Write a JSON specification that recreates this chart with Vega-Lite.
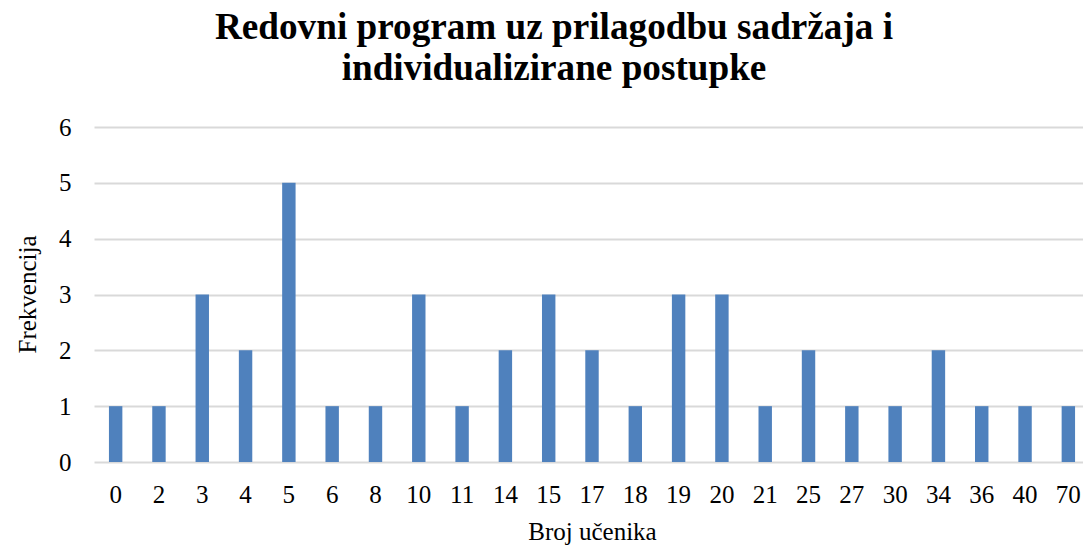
{
  "$schema": "https://vega.github.io/schema/vega-lite/v6.json",
  "autosize": {"type": "none"},
  "padding": {"left": 94, "top": 127, "right": 0, "bottom": 83},
  "width": 996,
  "height": 335,
  "background": "white",
  "title": {
    "text": ["Redovni program uz prilagodbu sadržaja i", "individualizirane postupke"],
    "font": "Liberation Serif",
    "fontSize": 37.2,
    "fontWeight": "bold",
    "color": "#000000",
    "anchor": "middle",
    "frame": "group",
    "dx": -38,
    "offset": 27,
    "lineHeight": 41
  },
  "data": {
    "values": [
      {"broj": "0", "frekvencija": 1},
      {"broj": "2", "frekvencija": 1},
      {"broj": "3", "frekvencija": 3},
      {"broj": "4", "frekvencija": 2},
      {"broj": "5", "frekvencija": 5},
      {"broj": "6", "frekvencija": 1},
      {"broj": "8", "frekvencija": 1},
      {"broj": "10", "frekvencija": 3},
      {"broj": "11", "frekvencija": 1},
      {"broj": "14", "frekvencija": 2},
      {"broj": "15", "frekvencija": 3},
      {"broj": "17", "frekvencija": 2},
      {"broj": "18", "frekvencija": 1},
      {"broj": "19", "frekvencija": 3},
      {"broj": "20", "frekvencija": 3},
      {"broj": "21", "frekvencija": 1},
      {"broj": "25", "frekvencija": 2},
      {"broj": "27", "frekvencija": 1},
      {"broj": "30", "frekvencija": 1},
      {"broj": "34", "frekvencija": 2},
      {"broj": "36", "frekvencija": 1},
      {"broj": "40", "frekvencija": 1},
      {"broj": "70", "frekvencija": 1}
    ]
  },
  "mark": {"type": "bar", "color": "#4f81bd"},
  "encoding": {
    "x": {
      "field": "broj",
      "type": "ordinal",
      "sort": null,
      "scale": {"paddingInner": 0.69, "paddingOuter": 0.345},
      "axis": {
        "title": "Broj učenika",
        "titleFont": "Liberation Serif",
        "titleFontSize": 25,
        "titleFontWeight": "normal",
        "titleColor": "#000000",
        "titleY": 77,
        "titleBaseline": "alphabetic",
        "titleX": 498,
        "labelFont": "Liberation Serif",
        "labelFontSize": 25,
        "labelColor": "#000000",
        "labelAngle": 0,
        "labelPadding": 20,
        "labelBaseline": "top",
        "labelOverlap": false,
        "ticks": false,
        "domain": false,
        "grid": false
      }
    },
    "y": {
      "field": "frekvencija",
      "type": "quantitative",
      "scale": {"domain": [0, 6], "nice": false},
      "axis": {
        "title": "Frekvencija",
        "titleFont": "Liberation Serif",
        "titleFontSize": 25,
        "titleFontWeight": "normal",
        "titleColor": "#000000",
        "titleX": -67,
        "titleY": 167,
        "titleAngle": -90,
        "titleAlign": "center",
        "titleBaseline": "middle",
        "labelFont": "Liberation Serif",
        "labelFontSize": 25,
        "labelColor": "#000000",
        "labelPadding": 23,
        "labelOverlap": false,
        "values": [0, 1, 2, 3, 4, 5, 6],
        "ticks": false,
        "domain": false,
        "grid": true,
        "gridColor": "#d9d9d9",
        "gridWidth": 2
      }
    }
  },
  "config": {
    "view": {"stroke": null}
  }
}
